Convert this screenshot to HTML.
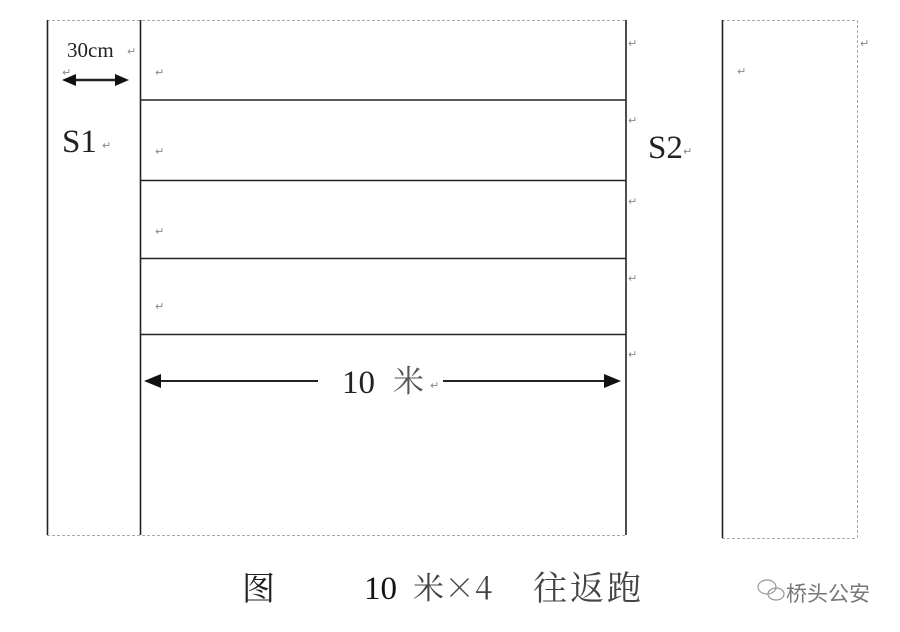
<!DOCTYPE html>
<html><head><meta charset="utf-8"><style>
html,body{margin:0;padding:0;background:#fff;}
svg{display:block}
.r{fill:#888;font-size:11px;font-family:"DejaVu Sans",sans-serif}
</style></head><body>
<svg width="900" height="632" viewBox="0 0 900 632" xmlns="http://www.w3.org/2000/svg">
<g stroke="#aaa" stroke-width="1" stroke-dasharray="3,2" fill="none">
<line x1="47" y1="20.5" x2="626" y2="20.5"/>
<line x1="47" y1="535.5" x2="626" y2="535.5"/>
<line x1="722" y1="20.5" x2="857" y2="20.5"/>
<line x1="857.5" y1="20" x2="857.5" y2="538"/>
<line x1="722" y1="538.5" x2="857" y2="538.5"/>
</g>
<g stroke="#222" stroke-width="1.6" fill="none">
<line x1="47.5" y1="20" x2="47.5" y2="535"/>
<line x1="140.5" y1="20" x2="140.5" y2="535"/>
<line x1="626" y1="20" x2="626" y2="535"/>
<line x1="722.5" y1="20" x2="722.5" y2="538"/>
<line x1="140" y1="100" x2="626" y2="100"/>
<line x1="140" y1="180.5" x2="626" y2="180.5"/>
<line x1="140" y1="258.5" x2="626" y2="258.5"/>
<line x1="140" y1="334.5" x2="626" y2="334.5"/>
</g>
<line x1="70" y1="80" x2="120" y2="80" stroke="#222" stroke-width="2.5"/>
<polygon points="62,80 76,74 76,86" fill="#111"/>
<polygon points="129,80 115,74 115,86" fill="#111"/>
<text x="67" y="57" font-family="Liberation Serif,serif" font-size="21" fill="#222">30cm</text>
<text class="r" x="127" y="55">↵</text>
<text class="r" x="62" y="76">↵</text>
<text x="62" y="152" font-family="Liberation Serif,serif" font-size="33" fill="#222">S1</text>
<text class="r" x="102" y="149">↵</text>
<text x="648" y="158" font-family="Liberation Serif,serif" font-size="33" fill="#222">S2</text>
<text class="r" x="683" y="155">↵</text>
<text class="r" x="155" y="76">↵</text>
<text class="r" x="155" y="155">↵</text>
<text class="r" x="155" y="235">↵</text>
<text class="r" x="155" y="310">↵</text>
<text class="r" x="628" y="47">↵</text>
<text class="r" x="628" y="124">↵</text>
<text class="r" x="628" y="205">↵</text>
<text class="r" x="628" y="282">↵</text>
<text class="r" x="628" y="358">↵</text>
<text class="r" x="737" y="75">↵</text>
<text class="r" x="860" y="47">↵</text>
<line x1="155" y1="381" x2="318" y2="381" stroke="#222" stroke-width="2"/>
<line x1="443" y1="381" x2="610" y2="381" stroke="#222" stroke-width="2"/>
<polygon points="144,381 161,374 161,388" fill="#111"/>
<polygon points="621,381 604,374 604,388" fill="#111"/>
<text x="342" y="393" font-family="Liberation Serif,serif" font-size="33" fill="#222">10</text>
<text x="393" y="392" font-family="Noto Serif CJK SC,serif" font-size="31" fill="#555">米</text>
<text class="r" x="430" y="389">↵</text>
<text x="242" y="600" font-family="Noto Serif CJK SC,serif" font-size="33" fill="#222">图</text>
<text x="364" y="599" font-family="Liberation Serif,serif" font-size="33" fill="#111">10</text>
<text x="413" y="599" font-family="Noto Serif CJK SC,serif" font-size="31" fill="#444">米×4</text>
<text x="533" y="600" font-family="Noto Serif CJK SC,serif" font-size="34" fill="#444" letter-spacing="3">往返跑</text>
<g fill="none" stroke="#999" stroke-width="1.2">
<ellipse cx="767" cy="587" rx="9" ry="7"/>
<ellipse cx="776" cy="594" rx="8" ry="6"/>
</g>
<text x="786" y="601" font-family="Noto Sans CJK SC,sans-serif" font-size="21" fill="#777">桥头公安</text>
</svg>
</body></html>
